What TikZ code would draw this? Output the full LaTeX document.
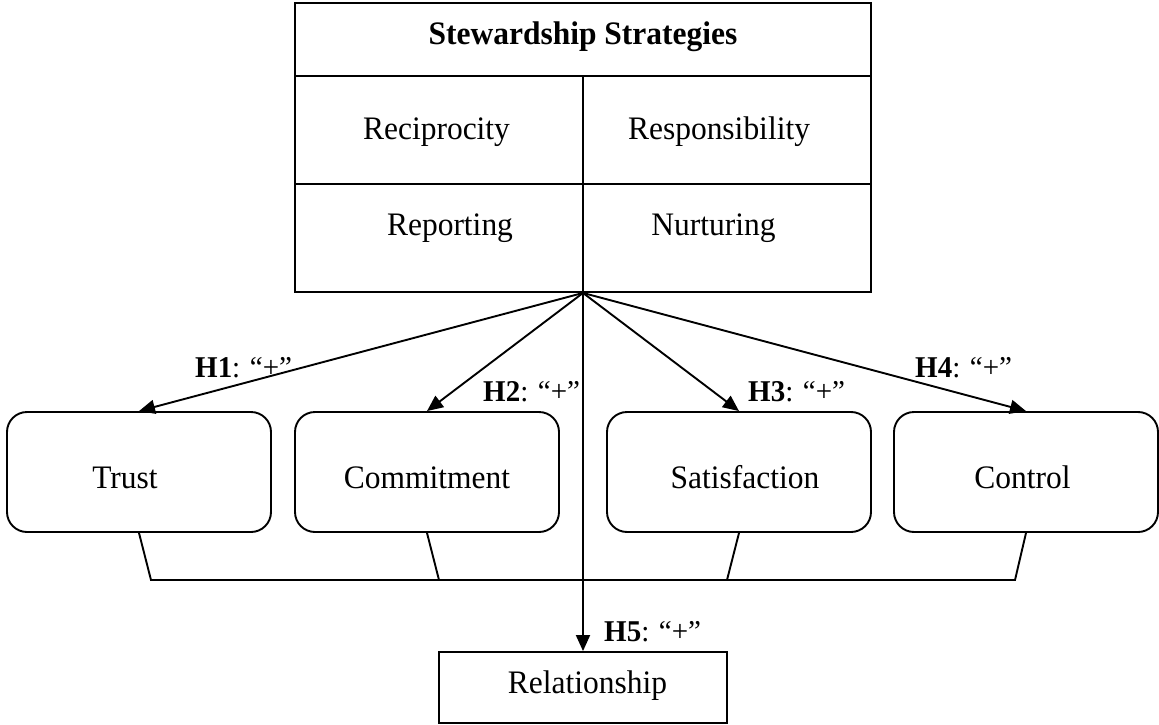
\documentclass[tikz,border=0pt]{standalone}
\usepackage{fontspec}
\setmainfont{Liberation Serif}[FakeStretch=0.96]
\usetikzlibrary{arrows.meta}
\begin{document}
\begin{tikzpicture}[x=1pt,y=-1pt,
  ln/.style={line width=1.9pt},
  txt/.style={font=\fontsize{32.8}{38}\selectfont, inner sep=0pt, anchor=base},
  lbl/.style={font=\fontsize{30.2}{35}\selectfont, inner sep=0pt, anchor=base west},
  rbox/.style={draw, ln, rounded corners=20pt, minimum width=264pt, minimum height=120pt,
    font=\fontsize{32.8}{38}\selectfont, text height=32pt, text depth=0pt, inner sep=0pt},
  sbox/.style={draw, ln, inner sep=0pt},
  arr/.style={ln, -{Triangle[length=16pt,width=14pt]}}]
\useasboundingbox (0,0) rectangle (1159,725);

% Stewardship strategies table
\node[sbox, minimum width=576pt, minimum height=289pt] (ss) at (583,147.5) {};
\draw[ln] (295,76) -- (871,76);
\draw[ln] (295,184) -- (871,184);
\draw[ln] (583,76) -- (ss.south);
\node[txt] (title) at (583,45) {\textbf{Stewardship Strategies}};
\node[txt] (recip) at (436.5,139) {Reciprocity};
\node[txt] (resp) at (719,139) {Responsibility};
\node[txt] (rep) at (450,235) {Reporting};
\node[txt] (nurt) at (713.5,235) {Nurturing};

% outcome boxes
\node[rbox] (trust) at (139,472) {Trust\kern28pt};
\node[rbox] (comm) at (427,472) {Commitment};
\node[rbox] (sat) at (739,472) {\kern12pt Satisfaction};
\node[rbox] (ctrl) at (1026,472) {\kern-7pt Control};

% relationship
\node[sbox, minimum width=288pt, minimum height=71pt, font=\fontsize{32.8}{38}\selectfont,
  text height=21pt, text depth=10pt] (rel) at (583,687.5) {\kern9pt Relationship};

% arrows
\draw[arr] (ss.south) -- (trust.north);
\draw[arr] (ss.south) -- (comm.north);
\draw[arr] (ss.south) -- (sat.north);
\draw[arr] (ss.south) -- (ctrl.north);
\draw[arr] (ss.south) -- (rel.north);

% bracket joining the four outcomes
\coordinate (b1) at (151,580);
\coordinate (b2) at (439,580);
\coordinate (b3) at (727,580);
\coordinate (b4) at (1015,580);
\draw[ln] (trust.south) -- (b1) -- (b4) -- (ctrl.south);
\draw[ln] (comm.south) -- (b2);
\draw[ln] (sat.south) -- (b3);

% labels
\node[lbl] (h1) at (195,377) {\textbf{H1}: “+”};
\node[lbl] (h2) at (483,401) {\textbf{H2}: “+”};
\node[lbl] (h3) at (748,401) {\textbf{H3}: “+”};
\node[lbl] (h4) at (915,377) {\textbf{H4}: “+”};
\node[lbl] (h5) at (604,641) {\textbf{H5}: “+”};
\end{tikzpicture}
\end{document}
